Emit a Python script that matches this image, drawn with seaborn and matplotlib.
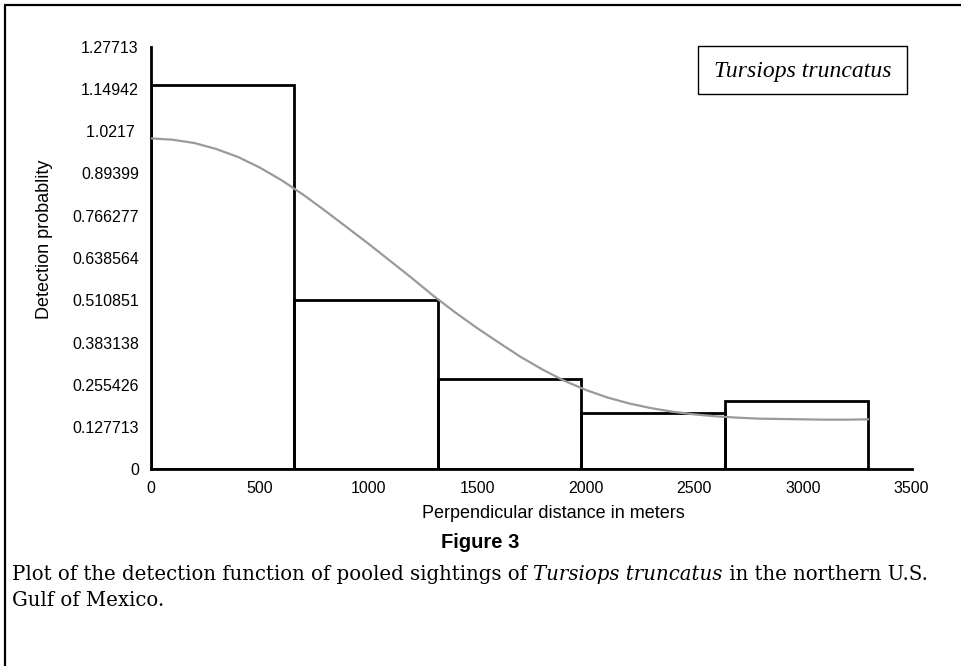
import numpy as np
import pandas as pd
import matplotlib
matplotlib.use("Agg")
import matplotlib.pyplot as plt
import seaborn as sns
from matplotlib.lines import Line2D
from matplotlib.patches import Rectangle

# ---- data ----
bin_edges = [0, 660, 1320, 1980, 2640, 3300]
bar_heights = [1.160, 0.512, 0.273, 0.171, 0.205]

curve_x = [0, 100, 200, 300, 400, 500, 600, 700, 800, 900, 1000, 1100, 1200,
           1300, 1400, 1500, 1600, 1700, 1800, 1900, 2000, 2100, 2200, 2300,
           2400, 2500, 2600, 2700, 2800, 2900, 3000, 3100, 3200, 3300]
curve_y = [1.000, 0.996, 0.986, 0.968, 0.944, 0.912, 0.874, 0.830, 0.782,
           0.732, 0.682, 0.630, 0.578, 0.524, 0.474, 0.427, 0.383, 0.340,
           0.302, 0.268, 0.240, 0.217, 0.199, 0.185, 0.174, 0.166, 0.160,
           0.156, 0.153, 0.152, 0.151, 0.150, 0.150, 0.151]

y_ticks = [0, 0.127713, 0.255426, 0.383138, 0.510851, 0.638564, 0.766277,
           0.89399, 1.0217, 1.14942, 1.27713]
y_tick_labels = ["0", "0.127713", "0.255426", "0.383138", "0.510851",
                 "0.638564", "0.766277", "0.89399", "1.0217 ", "1.14942",
                 "1.27713"]
x_ticks = [0, 500, 1000, 1500, 2000, 2500, 3000, 3500]
x_tick_labels = ["0", "500", "1000", "1500", "2000", "2500", "3000", "3500"]

x_label = "Perpendicular distance in meters"
y_label = "Detection probablity"
species = "Tursiops truncatus"
fig_title = "Figure 3"
caption_a = "Plot of the detection function of pooled sightings of "
caption_b = "Tursiops truncatus"
caption_c = " in the northern U.S."
caption_d = "Gulf of Mexico."

# ---- style ----
sns.set_theme(style="white")
plt.rcParams["font.family"] = ["Liberation Sans", "DejaVu Sans"]

W, H = 961, 666
fig = plt.figure(figsize=(W / 100, H / 100), dpi=100)
ax = fig.add_axes([151 / W, 1 - 469.3 / H, 760.7 / W, 422.6 / H])

bar_centers = [(a + b) / 2 for a, b in zip(bin_edges[:-1], bin_edges[1:])]
df = pd.DataFrame({"x": bar_centers, "w": bar_heights})
sns.histplot(data=df, x="x", weights="w", bins=bin_edges, fill=False,
             color="black", linewidth=2.0, element="bars", ax=ax, zorder=2)

cdf = pd.DataFrame({"x": curve_x, "y": curve_y})
sns.lineplot(data=cdf, x="x", y="y", color="#9a9a9a", linewidth=1.6, ax=ax,
             zorder=3)

ax.set_xlim(0, 3500)
ax.set_ylim(0, 1.27713)
ax.set_xticks(x_ticks)
ax.set_xticklabels(x_tick_labels)
ax.set_yticks(y_ticks)
ax.set_yticklabels(y_tick_labels)
for s in ["top", "right"]:
    ax.spines[s].set_visible(False)
for s in ["left", "bottom"]:
    ax.spines[s].set_color("black")
    ax.spines[s].set_linewidth(2.0)
ax.tick_params(axis="both", direction="inout", length=5.5, width=1.9,
               colors="black", labelsize=11.5)
ax.tick_params(axis="y", pad=6)
ax.tick_params(axis="x", pad=6)
ax.set_xlabel(x_label, fontsize=13, color="black")
ax.set_ylabel(y_label, fontsize=13, color="black")
ax.xaxis.set_label_coords((553 - 151) / 760.7, (469.3 - 514) / 422.6)
ax.xaxis.label.set_va("center")
ax.yaxis.set_label_coords((45 - 151) / 760.7, (469.3 - 239) / 422.6)
ax.yaxis.label.set_va("center")

# species box (figure pixel coordinates)
box_x0, box_x1, box_y0, box_y1 = 698, 907, 46, 94
fig.add_artist(Rectangle((box_x0 / W, 1 - box_y1 / H),
                         (box_x1 - box_x0) / W, (box_y1 - box_y0) / H,
                         transform=fig.transFigure, fc="white", ec="black",
                         lw=1.0, zorder=5))
fig.text((box_x0 + box_x1) / 2 / W, 1 - 71 / H, species, ha="center",
         va="center", family=["Liberation Serif"], style="italic",
         fontsize=17, color="black", zorder=6)

# figure title
fig.text(480 / W, 1 - 543 / H, fig_title, ha="center", va="center",
         family=["Liberation Sans Narrow", "Liberation Sans"],
         fontweight="bold", fontsize=14.5, color="black")

# caption in pieces (roman + italic)
cap_font = ["DejaVu Serif"]
cap_size = 12.0
fig.canvas.draw()
renderer = fig.canvas.get_renderer()

def make_caption(size):
    arts = []
    x = 12
    y = 1 - 575 / H
    for txt, st in [(caption_a, "normal"), (caption_b, "italic"),
                    (caption_c, "normal")]:
        t = fig.text(x / W, y, txt, ha="left", va="center", family=cap_font,
                     style=st, fontsize=size, color="black")
        bb = t.get_window_extent(renderer)
        x += bb.width
        arts.append(t)
    return arts, x

arts, xend = make_caption(cap_size)
target = 922
scale = (target - 12) / (xend - 12)
for a in arts:
    a.remove()
cap_size *= scale
arts, xend = make_caption(cap_size)
fig.text(12 / W, 1 - 600 / H, caption_d, ha="left", va="center",
         family=cap_font, fontsize=cap_size, color="black")

# partial frame (top and left lines)
fig.add_artist(Line2D([5 / W, 1.0], [1 - 5 / H, 1 - 5 / H], color="black",
                      lw=1.6, transform=fig.transFigure))
fig.add_artist(Line2D([5 / W, 5 / W], [0, 1 - 5 / H], color="black",
                      lw=1.6, transform=fig.transFigure))

fig.savefig("out.png", dpi=100)
